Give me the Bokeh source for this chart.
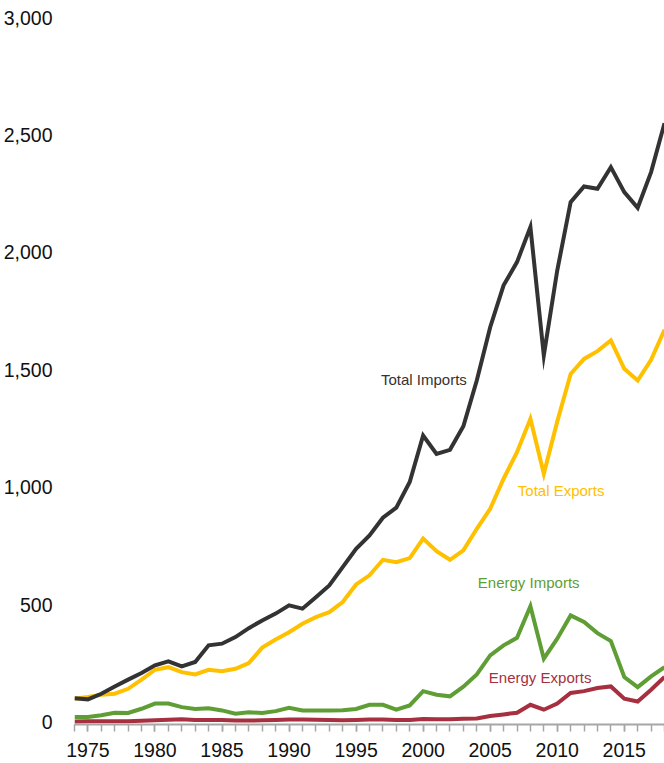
from bokeh.plotting import figure
from bokeh.models import Range1d, FixedTicker, Label, NumeralTickFormatter
from bokeh.embed import file_html
from bokeh.resources import INLINE

years = list(range(1974, 2019))

total_imports = [103, 98, 122, 153, 182, 210, 243, 260, 238, 257, 328, 335, 363, 401, 434, 463,
                 498, 484, 533, 583, 661, 739, 796, 871, 914, 1023, 1221, 1143, 1160, 1260,
                 1455, 1682, 1860, 1959, 2108, 1562, 1923, 2214, 2281, 2271, 2363, 2257, 2190,
                 2342, 2550]

total_exports = [101, 108, 118, 122, 143, 182, 224, 235, 214, 204, 224, 218, 228, 252, 318, 353,
                 384, 420, 448, 469, 512, 587, 626, 692, 682, 699, 782, 729, 692, 732,
                 824, 909, 1037, 1150, 1292, 1058, 1280, 1483, 1547, 1580, 1626, 1505, 1455,
                 1543, 1671]

energy_imports = [23, 23, 30, 41, 40, 58, 80, 80, 65, 57, 60, 51, 37, 43, 40, 48,
                  62, 51, 51, 51, 52, 57, 75, 75, 54, 72, 133, 118, 111, 152,
                  204, 285, 328, 360, 494, 271, 356, 455, 427, 380, 346, 193, 150,
                  196, 235]

energy_exports = [4, 5, 5, 5, 5, 7, 9, 11, 13, 10, 10, 10, 8, 8, 9, 10,
                  12, 12, 11, 10, 9, 10, 12, 12, 10, 10, 14, 13, 13, 15,
                  17, 27, 34, 41, 75, 54, 80, 125, 133, 146, 153, 101, 89,
                  139, 193]

y_ticks = [0, 500, 1000, 1500, 2000, 2500, 3000]
x_major = [1975, 1980, 1985, 1990, 1995, 2000, 2005, 2010, 2015]

series_names = ["Total Imports", "Total Exports", "Energy Imports", "Energy Exports"]
colors = ["#333333", "#FFC000", "#5E9E34", "#A6303F"]

FONT = "'Liberation Sans', Arial, sans-serif"

p = figure(width=664, height=763, output_backend="svg", toolbar_location=None,
           x_range=Range1d(1974, 2018), y_range=Range1d(-9, 3000),
           min_border_left=73, min_border_right=0, min_border_top=17, min_border_bottom=39)

p.outline_line_color = None
p.xgrid.visible = False
p.ygrid.visible = False
p.background_fill_color = "white"
p.border_fill_color = "white"

# x axis
xa = p.xaxis[0]
xa.ticker = FixedTicker(ticks=x_major, minor_ticks=years)
xa.axis_line_color = "#A6A6A6"
xa.axis_line_width = 2
xa.major_tick_line_color = "#A6A6A6"
xa.minor_tick_line_color = "#A6A6A6"
xa.major_tick_line_width = 1.5
xa.minor_tick_line_width = 1.5
xa.major_tick_in = 0
xa.major_tick_out = 7
xa.minor_tick_in = 0
xa.minor_tick_out = 7
xa.major_label_standoff = 11
xa.major_label_text_font = FONT
xa.major_label_text_font_size = "19.5px"
xa.major_label_text_color = "#111111"

# y axis
ya = p.yaxis[0]
ya.ticker = FixedTicker(ticks=y_ticks)
ya.formatter = NumeralTickFormatter(format="0,0")
ya.axis_line_color = None
ya.major_tick_line_color = None
ya.minor_tick_line_color = None
ya.major_label_standoff = 16
ya.major_label_text_font = FONT
ya.major_label_text_font_size = "19.5px"
ya.major_label_text_color = "#111111"

all_series = [total_imports, total_exports, energy_imports, energy_exports]
for vals, col in zip(reversed(all_series), reversed(colors)):
    p.line(years, vals, line_color=col, line_width=4, line_join="miter")

label_specs = [
    (series_names[0], 2003.26, 1460, "right", colors[0]),
    (series_names[1], 2007.06, 987, "left", colors[1]),
    (series_names[2], 2004.08, 596, "left", colors[2]),
    (series_names[3], 2004.9, 191, "left", colors[3]),
]
for txt, lx, ly, al, col in label_specs:
    p.add_layout(Label(x=lx, y=ly, text=txt, text_align=al, text_baseline="middle",
                       text_color=col, text_font=FONT, text_font_size="15px"))

open("out.html", "w").write(file_html(p, INLINE))
